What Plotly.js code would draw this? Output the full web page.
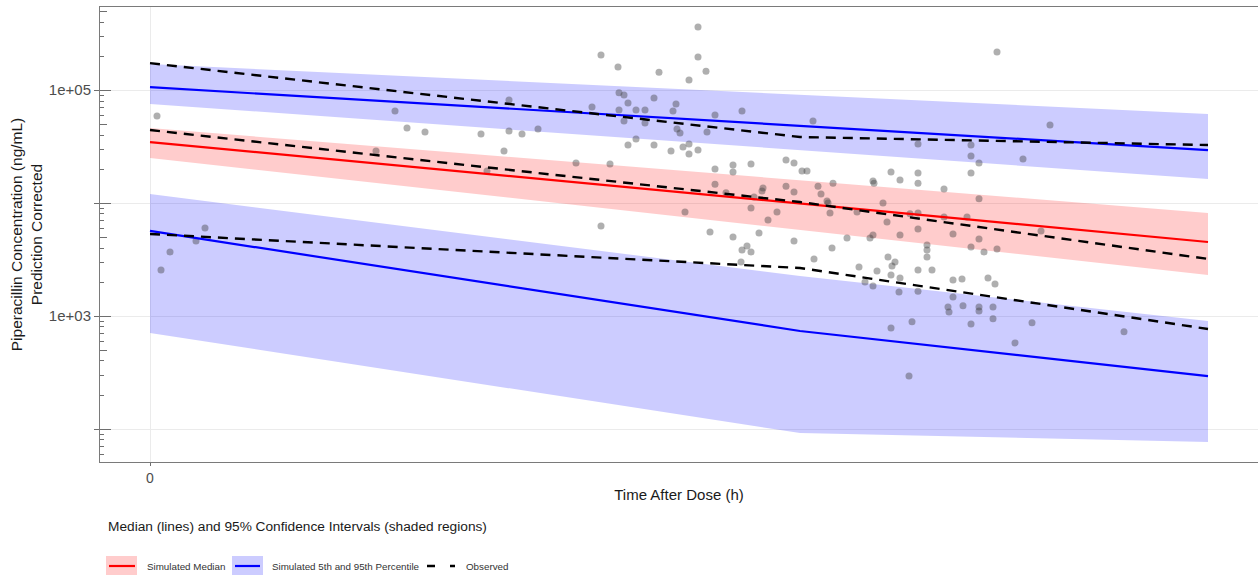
<!DOCTYPE html>
<html>
<head>
<meta charset="utf-8">
<script src="https://cdn.plot.ly/plotly-3.0.1.min.js"></script>
<style>
  html, body { margin: 0; padding: 0; background: #ffffff; overflow: hidden; }
  #chart { width: 1258px; height: 580px; }
</style>
</head>
<body>
<div id="chart"></div>
<script>
// ---- data (time after dose in h, concentration in ng/mL, prediction corrected) ----
const binTime = [0, 6.5, 10.58];

const simMedian   = [34600, 10000, 4520];
const simMedianLo = [25000, 5770, 2310];
const simMedianHi = [46100, 16000, 8170];

const simP95   = [106000, 48000, 29400];
const simP95Lo = [75300, 29400, 16300];
const simP95Hi = [170000, 91400, 61300];

const simP5   = [5660, 737, 294];
const simP5Lo = [707, 92.2, 76.8];
const simP5Hi = [12000, 2260, 903];

const obsMedian = [44300, 10200, 3200];
const obsP95    = [173000, 38400, 32600];
const obsP5     = [5320, 2660, 768];

const obsTime = [
  0.07, 0.11, 0.20, 0.46, 0.55, 2.26, 2.45, 2.57, 2.75, 3.31, 3.37, 3.54, 3.59, 3.59, 3.72, 3.88,
  4.26, 4.42, 4.51, 4.51, 4.60, 4.68, 4.69, 4.69, 4.74, 4.74, 4.78, 4.78, 4.86, 4.86, 4.95, 4.95,
  5.04, 5.04, 5.09, 5.21, 5.23, 5.26, 5.27, 5.30, 5.33, 5.35, 5.39, 5.39, 5.39, 5.48, 5.48, 5.48,
  5.56, 5.57, 5.60, 5.65, 5.65, 5.65,
  5.76, 5.83, 5.83, 5.83, 5.91, 5.92, 5.92, 5.97, 6.01, 6.01, 6.01, 6.04, 6.09, 6.12, 6.13, 6.18,
  6.27, 6.36, 6.36, 6.44, 6.44, 6.44, 6.52, 6.57, 6.63, 6.64, 6.68, 6.71, 6.77, 6.78, 6.80, 6.82,
  6.83, 6.97, 7.07, 7.09,
  7.15, 7.20, 7.23, 7.24, 7.23, 7.23, 7.27, 7.33, 7.37, 7.38, 7.41, 7.41, 7.41, 7.42, 7.45, 7.49,
  7.50, 7.50, 7.50, 7.59, 7.60, 7.62, 7.68, 7.68, 7.68, 7.68, 7.68, 7.68, 7.68, 7.77, 7.77, 7.77,
  7.82, 7.94, 7.94, 7.98, 7.99, 8.03, 8.03, 8.03, 8.12, 8.13, 8.17, 8.21, 8.21, 8.21, 8.21, 8.21,
  8.29, 8.29, 8.29, 8.29, 8.29, 8.34, 8.38, 8.43, 8.43, 8.45, 8.47, 8.47,
  8.65, 8.73, 8.82, 8.91, 9.00, 9.74
];
const obsConc = [
  59000, 2555, 3690, 4620, 6020, 28900, 65400, 46200, 42600, 40900, 19200, 28900, 81800, 43400, 40900, 45300,
  22600, 70900, 204000, 6270, 22100, 160000, 94400, 66700, 90600, 53300, 76900, 32600, 66700, 36900, 66700, 51200,
  85200, 32600, 144000, 28900, 65400, 75400, 45300, 41700, 31300, 8350, 123000, 33300, 27200, 362000, 196000, 29500,
  147000, 42600, 5550, 60200, 20000, 14700,
  12300, 21700, 18800, 5010, 3010, 65400, 3840, 4170, 22100, 9060, 3690, 11300, 5440, 12800, 13600, 7090,
  8350, 24000, 14100, 22600, 12500, 4620, 19200, 19200, 53300, 3200, 14100, 12000, 10400, 10000, 8180, 4000,
  15000, 4910, 8350, 2720,
  2000, 4910, 15700, 15000, 5220, 1840, 2500, 10000, 6810, 3330, 18800, 2310, 785, 2770, 3010, 1630,
  16000, 5220, 2170, 295, 8020, 888, 33300, 18400, 15000, 8180, 5900, 2555, 1660, 4260, 3840, 3330,
  2555, 13300, 7540, 1200, 1085, 5330, 2080, 1470, 2130, 1230, 7540, 32600, 26100, 18400, 4090, 852,
  22600, 10900, 4810, 1200, 1110, 3690, 2170, 1200, 944, 1920, 217000, 3920,
  578, 24500, 870, 5670, 49100, 724
];

// ---- styling ----
const RED = '#FF0000', BLUE = '#0000FF';
const PINK_FILL = 'rgba(255,0,0,0.2)', BLUE_FILL = 'rgba(0,0,255,0.2)';
const FONT = 'Liberation Sans, Arial, sans-serif';
const YRANGE = [1.708, 5.735];

function band(lo, hi, fill) {
  return [
    {x: binTime, y: lo, mode: 'lines', line: {width: 0, color: fill}, hoverinfo: 'skip', showlegend: false},
    {x: binTime, y: hi, mode: 'lines', line: {width: 0, color: fill}, fill: 'tonexty', fillcolor: fill, hoverinfo: 'skip', showlegend: false}
  ];
}
function line(y, color, dash, width) {
  return {x: binTime, y: y, mode: 'lines', line: {color: color, width: width, dash: dash}, hoverinfo: 'skip', showlegend: false};
}

const traces = [].concat(
  band(simP5Lo, simP5Hi, BLUE_FILL),
  band(simP95Lo, simP95Hi, BLUE_FILL),
  band(simMedianLo, simMedianHi, PINK_FILL),
  [{x: obsTime, y: obsConc, mode: 'markers', marker: {size: 7, color: 'rgba(64,64,64,0.42)', line: {width: 0}}, hoverinfo: 'skip', showlegend: false}],
  [line(simP5, BLUE, 'solid', 2.2), line(simP95, BLUE, 'solid', 2.2), line(simMedian, RED, 'solid', 2.2)],
  [line(obsP5, '#000000', '10px,7px', 2.4), line(obsP95, '#000000', '10px,7px', 2.4), line(obsMedian, '#000000', '10px,7px', 2.4)]
);

// log-tick overlay axes (decoration)
const longTicks = [], midTicks = [], shortTicks = [];
for (let e = 1; e <= 5; e++) {
  const b = Math.pow(10, e);
  longTicks.push(b);
  midTicks.push(5 * b);
  [2, 3, 4, 6, 7, 8, 9].forEach(m => shortTicks.push(m * b));
}
['y2', 'y3', 'y4'].forEach(ax => traces.push({x: [0], y: [1000], yaxis: ax, mode: 'markers', marker: {opacity: 0}, hoverinfo: 'skip', showlegend: false}));

function tickAxis(vals, len) {
  return {overlaying: 'y', anchor: 'x', side: 'left', type: 'log', range: YRANGE, tickmode: 'array', tickvals: vals,
    ticks: 'inside', ticklen: len, tickwidth: 1, tickcolor: '#6e6e6e', showticklabels: false, showgrid: false,
    showline: false, zeroline: false, fixedrange: true};
}

const pX = px => (px - 100) / 1158;
const pY = py => (462 - py) / 455;

const shapes = [
  {type: 'rect', xref: 'paper', yref: 'paper', x0: pX(106), x1: pX(137), y0: pY(556), y1: pY(575), fillcolor: PINK_FILL, line: {width: 0}},
  {type: 'line', xref: 'paper', yref: 'paper', x0: pX(109), x1: pX(135), y0: pY(566), y1: pY(566), line: {color: RED, width: 2.2}},
  {type: 'rect', xref: 'paper', yref: 'paper', x0: pX(232), x1: pX(263), y0: pY(556), y1: pY(575), fillcolor: BLUE_FILL, line: {width: 0}},
  {type: 'line', xref: 'paper', yref: 'paper', x0: pX(235), x1: pX(260), y0: pY(566), y1: pY(566), line: {color: BLUE, width: 2.2}},
  {type: 'line', xref: 'paper', yref: 'paper', x0: pX(427), x1: pX(455), y0: pY(566), y1: pY(566), line: {color: '#000000', width: 2.4, dash: '8px,15px'}}
];

const annotations = [
  {xref: 'paper', yref: 'paper', x: pX(106), y: pY(526), xanchor: 'left', yanchor: 'middle', showarrow: false,
   text: 'Median (lines) and 95% Confidence Intervals (shaded regions)', font: {family: FONT, size: 13.7, color: '#1a1a1a'}},
  {xref: 'paper', yref: 'paper', x: pX(145), y: pY(566), xanchor: 'left', yanchor: 'middle', showarrow: false,
   text: 'Simulated Median', font: {family: FONT, size: 9.8, color: '#333333'}},
  {xref: 'paper', yref: 'paper', x: pX(270), y: pY(566), xanchor: 'left', yanchor: 'middle', showarrow: false,
   text: 'Simulated 5th and 95th Percentile', font: {family: FONT, size: 9.8, color: '#333333'}},
  {xref: 'paper', yref: 'paper', x: pX(464), y: pY(566), xanchor: 'left', yanchor: 'middle', showarrow: false,
   text: 'Observed', font: {family: FONT, size: 9.8, color: '#333333'}}
];

const layout = {
  width: 1258, height: 580,
  margin: {l: 100, r: 0, t: 7, b: 118, pad: 0},
  paper_bgcolor: '#ffffff', plot_bgcolor: '#ffffff',
  font: {family: FONT, color: '#1a1a1a'},
  showlegend: false,
  hovermode: false,
  xaxis: {
    range: [-0.5, 11.08], tickmode: 'array', tickvals: [0], ticktext: ['0'],
    ticks: 'outside', ticklen: 3, tickcolor: '#6e6e6e',
    tickfont: {family: FONT, size: 14, color: '#4d4d4d'},
    showgrid: true, gridcolor: '#ebebeb', gridwidth: 1, zeroline: false,
    showline: true, linecolor: '#7a7a7a', linewidth: 1, mirror: true,
    title: {text: 'Time After Dose (h)', font: {family: FONT, size: 15, color: '#1a1a1a'}, standoff: 4},
    fixedrange: true
  },
  yaxis: {
    type: 'log', range: YRANGE, tickmode: 'array',
    tickvals: [100, 1000, 10000, 100000], ticktext: ['', '1e+03', '', '1e+05'],
    ticks: 'outside', ticklen: 5, tickcolor: '#6e6e6e',
    tickfont: {family: FONT, size: 15, color: '#4d4d4d'},
    showgrid: true, gridcolor: '#ebebeb', gridwidth: 1, zeroline: false,
    showline: true, linecolor: '#7a7a7a', linewidth: 1,
    title: {text: 'Piperacillin Concentration (ng/mL)<br>Prediction Corrected', font: {family: FONT, size: 15.5, color: '#1a1a1a'}, standoff: 2},
    fixedrange: true
  },
  yaxis2: tickAxis(longTicks, 11),
  yaxis3: tickAxis(midTicks, 7),
  yaxis4: tickAxis(shortTicks, 4),
  shapes: shapes,
  annotations: annotations
};

Plotly.newPlot('chart', traces, layout, {displayModeBar: false, staticPlot: true});
</script>
</body>
</html>
